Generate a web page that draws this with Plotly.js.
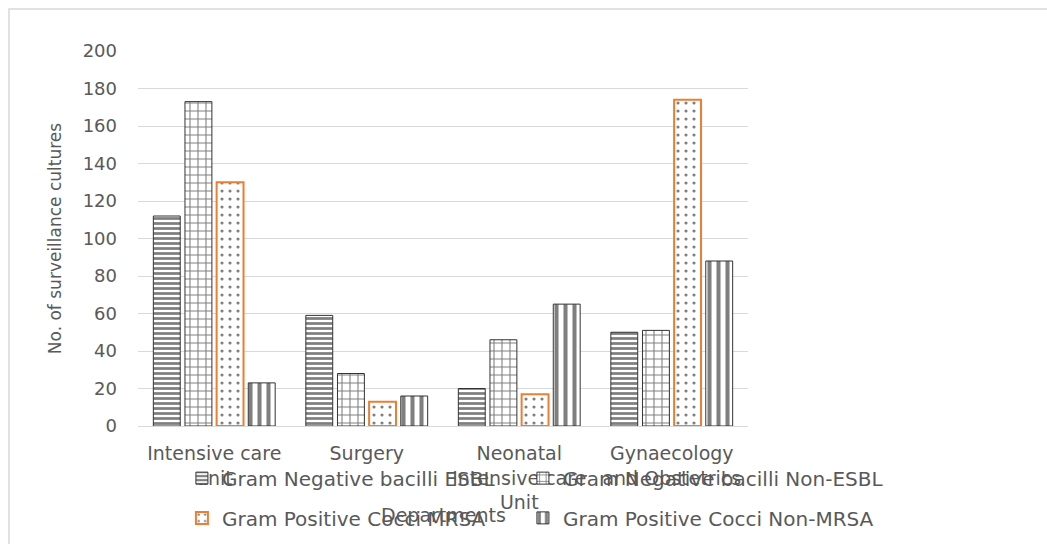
<!DOCTYPE html>
<html>
<head>
<meta charset="utf-8">
<script src="https://cdn.plot.ly/plotly-3.0.1.min.js"></script>
<style>html,body{margin:0;padding:0;background:#fff;}#chart{width:1047px;height:544px;}</style>
</head>
<body>
<div id="chart"></div>
<script>
var departments = ["Intensive care unit", "Surgery", "Neonatal Intensive care Unit", "Gynaecology and Obstetrics"];
var departmentLabels = ["Intensive care<br>unit", "Surgery", "Neonatal<br>Intensive care<br>Unit", "Gynaecology<br>and Obstetrics"];
var seriesNames = ["Gram Negative bacilli ESBL", "Gram Negative bacilli Non-ESBL", "Gram Positive Cocci MRSA", "Gram Positive Cocci Non-MRSA"];
var gnbEsbl = [112, 59, 20, 50];
var gnbNonEsbl = [173, 28, 46, 51];
var gpcMrsa = [130, 13, 17, 174];
var gpcNonMrsa = [23, 16, 65, 88];
var yTicks = [0, 20, 40, 60, 80, 100, 120, 140, 160, 180, 200];

var seriesValues = [gnbEsbl, gnbNonEsbl, gpcMrsa, gpcNonMrsa];
var patterns = ["-", "+", ".", "|"];
var outlines = ["#333333", "#333333", "#ED7D31", "#333333"];
var outlineWidths = [1, 1, 2, 1];
var psize = [5, 8, 8, 9];
var psolid = [0.55, 0.25, 0.12, 0.45];
var legendIds = ["legend", "legend2", "legend3", "legend4"];

var traces = seriesValues.map(function (vals, i) {
  return {
    type: "bar",
    name: seriesNames[i],
    x: departments,
    y: vals,
    legend: legendIds[i],
    marker: {
      color: "#ffffff",
      line: {color: outlines[i], width: outlineWidths[i]},
      pattern: {shape: patterns[i], fgcolor: "#000000", bgcolor: "#ffffff", size: psize[i], solidity: psolid[i], fillmode: "overlay"}
    },
    hoverinfo: "x+y+name"
  };
});

var font = "DejaVu Sans, Open Sans, Arial, sans-serif";
function legendAt(x, y) {
  return {
    orientation: "h",
    x: x, y: y,
    xanchor: "left",
    yanchor: "middle",
    font: {family: font, size: 20, color: "#595959"},
    bgcolor: "rgba(0,0,0,0)",
    itemwidth: 30
  };
}
var layout = {
  width: 1047,
  height: 544,
  margin: {l: 138, r: 299, t: 51, b: 118, autoexpand: false},
  paper_bgcolor: "#ffffff",
  plot_bgcolor: "#ffffff",
  barmode: "group",
  bargap: 0.17,
  bargroupgap: 0.15,
  font: {family: font, color: "#595959", size: 18},
  xaxis: {
    type: "category",
    tickmode: "array",
    tickvals: departments,
    ticktext: departmentLabels,
    tickfont: {family: font, size: 19, color: "#595959"},
    ticklabelstandoff: 10,
    showgrid: false,
    showline: true,
    linecolor: "#d9d9d9",
    linewidth: 1,
    ticks: "",
    automargin: false,
    fixedrange: true
  },
  yaxis: {
    range: [0, 200],
    tickmode: "array",
    tickvals: yTicks,
    ticktext: yTicks.map(String),
    tickfont: {family: font, size: 18, color: "#595959"},
    showgrid: true,
    gridcolor: "#d9d9d9",
    gridwidth: 1,
    zeroline: false,
    ticks: "",
    ticklabelstandoff: 20,
    automargin: false,
    title: {text: "No. of surveillance cultures", font: {family: font, size: 17, color: "#595959"}, standoff: 16},
    fixedrange: true
  },
  showlegend: true,
  legend: legendAt(0.072, -0.139),
  legend2: legendAt(0.631, -0.139),
  legend3: legendAt(0.072, -0.245),
  legend4: legendAt(0.631, -0.245),
  annotations: [{
    text: "Departments",
    xref: "paper", yref: "paper",
    x: 0.5, y: -0.237,
    xanchor: "center", yanchor: "middle",
    showarrow: false,
    font: {family: font, size: 19, color: "#595959"}
  }],
  shapes: [{
    type: "rect", xref: "paper", yref: "paper",
    x0: -0.2115, x1: 1.6, y0: -0.5, y1: 1.112,
    line: {color: "#d9d9d9", width: 1.5},
    fillcolor: "rgba(0,0,0,0)",
    layer: "below"
  }]
};

Plotly.newPlot("chart", traces, layout, {displayModeBar: false, staticPlot: true});
</script>
</body>
</html>
